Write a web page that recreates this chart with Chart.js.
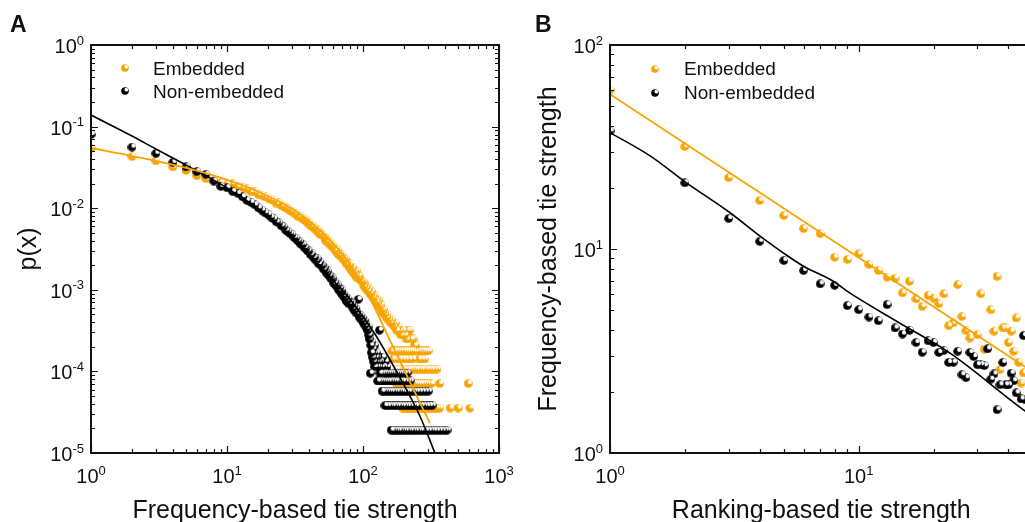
<!DOCTYPE html>
<html><head><meta charset="utf-8">
<script src="https://cdn.jsdelivr.net/npm/chart.js@4.4.0/dist/chart.umd.min.js"></script>
<style>
html,body{margin:0;padding:0;background:#fff;overflow:hidden;width:1025px;height:522px;}
#wa{position:absolute;left:0;top:0;width:520px;height:522px;}
#wb{position:absolute;left:520px;top:0;width:540px;height:522px;}
</style></head><body>
<div id="wa"><canvas id="ca" width="520" height="522"></canvas></div>
<div id="wb"><canvas id="cb" width="540" height="522"></canvas></div>
<script>
const FONT = "'Liberation Sans', Arial, Helvetica, sans-serif";
const ORANGE = '#F7A400';
const INK = '#111111';

const seriesNames = ['Embedded', 'Non-embedded'];
const panelLabels = ['A', 'B'];
const titlesA = ['Frequency-based tie strength', 'p(x)'];
const titlesB = ['Ranking-based tie strength', 'Frequency-based tie strength'];
const tickExpAx = [0, 1, 2, 3];
const tickExpAy = [0, -1, -2, -3, -4, -5];
const tickExpBx = [0, 1];
const tickExpBy = [0, 1, 2];

// ---------- Panel A : distribution p(x) ----------
const freqEmbX = [1,2,3,4,5,6,7,8,9,10,11,12,13,14,15,16,17,18,19,20,21,22,23,24,25,26,27,28,29,30,31,32,33,34,35,36,37,38,39,40,41,42,43,44,45,46,47,48,49,50,52,53,54,55,56,57,58,59,60,62,63,64,65,66,67,68,70,71,72,73,74,75,76,78,79,80,82,83,84,85,86,88,89,90,92,93,95,96,98,100,
101,103,104,106,108,110,112,113,115,117,118,120,122,124,125,127,129,131,133,135,137,139,141,143,145,148,150,153,155,158,161,164,168,172,176,180,185,190,196,202,208,214,221,227,234,240,245,
163,168,173,178,184,190,196,203,210,217,225,233,242,251,260,270,280,290,301,
166,175,185,195,205,218,232,258,270,284,
158,163,169,175,181,188,195,202,210,218,227,236,246,256,267,279,291,304,318,333,350,
175,181,188,195,202,210,218,226,235,244,253,263,273,284,295,318,366,594,
195,201,207,214,221,228,236,244,252,261,270,280,290,301,312,323,335,348,366,437,500,612];
const freqEmbY = [0.054,0.043,0.038,0.032,0.029,0.025,0.023,0.022,0.0205,0.0195,0.020,0.0185,0.018,0.0172,0.016,0.0158,0.0148,0.0145,0.0138,0.0133,0.0128,0.0124,0.0115,0.0118,0.0108,0.0105,0.0101,0.0098,0.0093,0.0092,0.0087,0.0086,0.0080,0.0081,0.0077,0.0074,0.0072,0.0070,0.0066,0.0066,0.0061,0.0062,0.0058,0.0058,0.0054,0.0055,0.0050,0.0051,0.0047,0.0047,0.0044,0.0040,0.0042,0.0038,0.0039,0.0036,0.0037,0.0034,0.0035,0.0031,0.0032,0.0029,0.0031,0.0027,0.0028,0.0026,0.0027,0.0024,0.0025,0.0023,0.0024,0.0021,0.0022,0.0020,0.0019,0.0021,0.0018,0.0017,0.0019,0.0016,0.0017,0.0015,0.0017,0.0014,0.0015,0.0014,0.00145,0.0013,0.0013,0.00125,
0.00112,0.0012,0.00105,0.00112,0.00098,0.00105,0.00092,0.00088,0.00096,0.00082,0.00088,0.00078,0.00085,0.00072,0.00078,0.00068,0.00074,0.00064,0.0006,0.00066,0.00057,0.00053,0.00057,0.0005,0.00053,0.00046,0.0005,0.00043,0.00046,0.0004,0.00043,0.00039,0.00036,0.00039,0.00032,0.00036,0.00032,0.00028,0.00032,0.00028,0.00025,0.00032,0.00032,0.00025,0.00025,0.00021,0.00021,
1.78e-4,1.78e-4,1.78e-4,1.78e-4,1.78e-4,1.78e-4,1.78e-4,1.78e-4,1.78e-4,1.78e-4,1.78e-4,1.78e-4,1.78e-4,1.78e-4,1.78e-4,1.78e-4,1.78e-4,1.78e-4,1.78e-4,
1.42e-4,1.42e-4,1.42e-4,1.42e-4,1.42e-4,1.42e-4,1.42e-4,1.42e-4,1.42e-4,1.42e-4,
1.07e-4,1.07e-4,1.07e-4,1.07e-4,1.07e-4,1.07e-4,1.07e-4,1.07e-4,1.07e-4,1.07e-4,1.07e-4,1.07e-4,1.07e-4,1.07e-4,1.07e-4,1.07e-4,1.07e-4,1.07e-4,1.07e-4,1.07e-4,1.07e-4,
7.1e-5,7.1e-5,7.1e-5,7.1e-5,7.1e-5,7.1e-5,7.1e-5,7.1e-5,7.1e-5,7.1e-5,7.1e-5,7.1e-5,7.1e-5,7.1e-5,7.1e-5,7.1e-5,7.1e-5,7.1e-5,
3.56e-5,3.56e-5,3.56e-5,3.56e-5,3.56e-5,3.56e-5,3.56e-5,3.56e-5,3.56e-5,3.56e-5,3.56e-5,3.56e-5,3.56e-5,3.56e-5,3.56e-5,3.56e-5,3.56e-5,3.56e-5,3.56e-5,3.56e-5,3.56e-5,3.56e-5];

const freqNonX = [1,2,3,4,5,6,7,8,9,10,11,12,13,14,15,16,17,18,19,20,21,22,23,24,25,26,27,28,29,30,31,32,33,34,35,36,37,38,39,40,41,42,43,44,45,46,47,48,49,50,51,52,53,54,55,56,57,58,59,60,61,62,63,64,65,66,67,68,69,70,71,72,73,74,75,76,77,78,79,80,82,83,84,85,86,88,89,90,92,93,94,96,97,99,100,102,103,105,106,108,109,
110,111,112,113,114,115,116,117,118,119,120,121,122,123,124,125,126,127,129,130,132,134,136,139,142,146,150,
133,137,141,146,151,156,161,167,173,179,186,193,201,211,
128,132,137,142,147,153,159,165,172,179,187,195,204,213,222,
138,143,149,155,161,168,175,182,190,198,207,216,226,237,248,260,273,287,302,
145,151,157,164,171,178,186,194,203,212,222,232,243,255,267,280,294,308,322,
161,167,174,181,188,196,204,213,222,232,242,253,264,276,289,302,316,331,347,364,381,400,415];
const freqNonY = [0.08,0.056,0.047,0.0365,0.032,0.028,0.026,0.0215,0.0185,0.0178,0.016,0.0152,0.0138,0.0125,0.0118,0.011,0.0101,0.0095,0.0088,0.0084,0.0078,0.0074,0.0068,0.0066,0.0061,0.0059,0.0054,0.0052,0.0049,0.0048,0.0044,0.0043,0.004,0.0039,0.0036,0.0036,0.0033,0.0032,0.003,0.003,0.0027,0.0028,0.0025,0.0025,0.0023,0.0024,0.0021,0.0022,0.002,0.002,0.0018,0.00185,0.0017,0.0016,0.0017,0.0015,0.0015,0.0014,0.00135,0.0014,0.0012,0.00125,0.00115,0.0011,0.00115,0.001,0.00105,0.00095,0.00092,0.001,0.00085,0.00088,0.0008,0.00082,0.00075,0.00072,0.00078,0.00068,0.0007,0.0007,0.00066,0.00069,0.0006,0.00063,0.00056,0.00059,0.00052,0.00055,0.00076,0.0005,0.00046,0.00048,0.00043,0.00045,0.0004,0.00042,0.00037,0.00039,0.00034,0.00032,0.00035,
0.00028,0.00025,0.00029,0.000095,0.00021,0.00017,0.00023,0.00015,0.00019,0.000133,0.00017,0.000115,0.00021,0.00015,0.000133,0.00017,0.000115,0.00015,0.000133,0.000115,0.00032,0.000133,0.000115,0.00015,0.000115,0.000133,0.000115,
9.55e-5,9.55e-5,9.55e-5,9.55e-5,9.55e-5,9.55e-5,9.55e-5,9.55e-5,9.55e-5,9.55e-5,9.55e-5,9.55e-5,9.55e-5,9.55e-5,
7.64e-5,7.64e-5,7.64e-5,7.64e-5,7.64e-5,7.64e-5,7.64e-5,7.64e-5,7.64e-5,7.64e-5,7.64e-5,7.64e-5,7.64e-5,7.64e-5,7.64e-5,
5.73e-5,5.73e-5,5.73e-5,5.73e-5,5.73e-5,5.73e-5,5.73e-5,5.73e-5,5.73e-5,5.73e-5,5.73e-5,5.73e-5,5.73e-5,5.73e-5,5.73e-5,5.73e-5,5.73e-5,5.73e-5,5.73e-5,
3.82e-5,3.82e-5,3.82e-5,3.82e-5,3.82e-5,3.82e-5,3.82e-5,3.82e-5,3.82e-5,3.82e-5,3.82e-5,3.82e-5,3.82e-5,3.82e-5,3.82e-5,3.82e-5,3.82e-5,3.82e-5,3.82e-5,
1.91e-5,1.91e-5,1.91e-5,1.91e-5,1.91e-5,1.91e-5,1.91e-5,1.91e-5,1.91e-5,1.91e-5,1.91e-5,1.91e-5,1.91e-5,1.91e-5,1.91e-5,1.91e-5,1.91e-5,1.91e-5,1.91e-5,1.91e-5,1.91e-5,1.91e-5,1.91e-5];

const freqEmbFitX = [1, 2, 5, 10, 20, 34.4, 60, 87.6, 116, 158, 220, 310];
const freqEmbFitY = [0.0547, 0.0436, 0.0311, 0.0222, 0.0141, 0.0085, 0.00375, 0.00165, 0.00071, 0.00024, 0.000076, 0.0000233];
const freqNonFitX = [1, 2, 3, 5, 7, 10, 20, 34.4, 60, 80, 122, 186, 262, 338];
const freqNonFitY = [0.1387, 0.0767, 0.0531, 0.0338, 0.0249, 0.0177, 0.008, 0.00337, 0.00131, 0.000774, 0.000289, 0.000085, 0.0000284, 0.00001];

// ---------- Panel B : frequency vs ranking ----------
const rankEmbX = [1,2,3,4,5,6,7,8,9,10,11,12,13,14,15,16,17,18,19,20,21,22,23,24,25,26,27,28,30,31,32,34,35,36,37,38,39,40,41,42,43,44,45,46];
const rankEmbY = [60.1,31.8,22.4,17.3,14.6,12.6,11.9,9.12,8.88,9.47,8.4,7.84,7.27,7.19,6.1,6.95,5.69,5.24,5.93,5.75,5.4,6.03,4.21,4.34,6.69,4.67,3.98,3.66,3.8,6.03,3.23,5.04,3.95,7.35,2.56,4.1,4.1,3.48,3.95,3.15,4.59,2.78,2.2,2.47];
const rankNonX = [1,2,3,4,5,6,7,8,9,10,11,12,13,14,15,16,17,18,19,20,21,22,23,24,25,26,27,28,29,30,31,32,33,34,35,36,37,38,39,40,41,42,43,45,46,47];
const rankNonY = [37.9,21.1,14.1,10.9,8.78,7.84,6.75,6.64,5.28,5.04,4.64,4.45,5.34,4.1,3.83,3.99,3.48,3.12,3.55,3.48,3.11,3.18,2.78,2.78,3.15,2.42,2.34,3.11,2.97,2.71,2.71,2.68,3.24,2.3,2.44,1.63,2.16,2.78,2.16,2.16,2.46,2.26,1.97,1.84,3.76,1.82];
const rankEmbFitX = [1, 50];
const rankEmbFitY = [57.4, 2.5];
const rankNonFitX = [1, 1.45, 2.03, 3.03, 4.0, 4.97, 6.0, 7.9, 9.2, 14.6, 23.3, 46.6, 50];
const rankNonFitY = [37.2, 28.6, 21.1, 15.1, 11.6, 9.58, 8.23, 6.95, 6.09, 4.34, 3.09, 1.61, 1.52];

function ball(color, d) {
  const c = document.createElement('canvas');
  c.width = d; c.height = d;
  const g = c.getContext('2d');
  const r = d / 2;
  g.beginPath(); g.arc(r, r, r - 0.2, 0, Math.PI * 2); g.fillStyle = color; g.fill();
  g.save();
  g.beginPath(); g.arc(r, r, r - 0.6, 0, Math.PI * 2); g.clip();
  const hx = r + r * 0.36, hy = r - r * 0.36;
  const gr = g.createRadialGradient(hx, hy, 0, hx, hy, r * 0.6);
  gr.addColorStop(0, 'rgba(255,255,255,1)');
  gr.addColorStop(0.6, 'rgba(255,255,255,1)');
  gr.addColorStop(1, 'rgba(255,255,255,0)');
  g.fillStyle = gr; g.fillRect(0, 0, d, d);
  g.restore();
  return c;
}
const ballO = ball(ORANGE, 9), ballK = ball('#000', 9);
const legO = ball(ORANGE, 8), legK = ball('#000', 8);

// points listed per series; drawn from the largest x down so every highlight stays visible
const pts = (xs, ys) => xs.map((x, i) => ({x: x, y: ys[i]}));
const ptsDesc = (xs, ys) => pts(xs, ys).sort((a, b) => b.x - a.x);

const framePlugin = {
  id: 'logFrame',
  afterDatasetsDraw(chart) {
    const o = chart.options.plugins.logFrame;
    const {ctx, chartArea: a} = chart;
    const sx = chart.scales.x, sy = chart.scales.y;
    ctx.save();
    ctx.strokeStyle = INK;
    ctx.lineWidth = 1.2;
    ctx.beginPath();
    const each = (scale, cb) => {
      const lo = Math.floor(Math.log10(scale.min)), hi = Math.ceil(Math.log10(scale.max));
      for (let k = lo; k <= hi; k++) for (let m = 1; m <= 9; m++) {
        const v = m * Math.pow(10, k);
        if (v < scale.min * 0.999 || v > scale.max * 1.001) continue;
        cb(scale.getPixelForValue(v), m === 1 ? 7 : 4);
      }
    };
    each(sx, (p, len) => { p = Math.round(p) + 0.5; ctx.moveTo(p, a.bottom); ctx.lineTo(p, a.bottom - len); ctx.moveTo(p, a.top); ctx.lineTo(p, a.top + len); });
    each(sy, (p, len) => { p = Math.round(p) + 0.5; ctx.moveTo(a.left, p); ctx.lineTo(a.left + len, p); ctx.moveTo(a.right, p); ctx.lineTo(a.right - len, p); });
    ctx.stroke();
    ctx.lineWidth = 2;
    ctx.strokeRect(a.left, a.top, a.right - a.left, a.bottom - a.top);

    ctx.fillStyle = INK;
    ctx.textBaseline = 'alphabetic';
    ctx.textAlign = 'left';
    const big = '20px ' + FONT, small = '13px ' + FONT;
    o.xExps.forEach(e => {
      const px = sx.getPixelForValue(Math.pow(10, e));
      ctx.font = big; const w1 = ctx.measureText('10').width;
      ctx.font = small; const w2 = ctx.measureText(String(e)).width;
      const x0 = px - (w1 + w2) / 2;
      ctx.font = big; ctx.fillText('10', x0, a.bottom + 30);
      ctx.font = small; ctx.fillText(String(e), x0 + w1, a.bottom + 21.5);
    });
    o.yExps.forEach(e => {
      const py = sy.getPixelForValue(Math.pow(10, e));
      ctx.font = big; const w1 = ctx.measureText('10').width;
      ctx.font = small; const w2 = ctx.measureText(String(e)).width;
      const right = a.left - 7;
      ctx.font = big; ctx.fillText('10', right - w2 - w1, py + 8);
      ctx.font = small; ctx.fillText(String(e), right - w2, py - 0.5);
    });
    ctx.font = '19px ' + FONT;
    o.legend.forEach(it => {
      ctx.drawImage(it.img, it.mx - it.img.width / 2, it.my - it.img.height / 2);
      ctx.fillText(it.text, it.tx, it.ty);
    });
    ctx.font = 'bold 23px ' + FONT;
    ctx.fillText(o.panel, o.panelX, 31.5);
    ctx.restore();
  }
};

function makeChart(id, cfg) {
  const axisTitle = (text, pad) => ({display: true, text: text, color: INK,
    font: {family: FONT, size: 25, lineHeight: pad.lh}, padding: {top: pad.top, bottom: pad.bottom}});
  return new Chart(document.getElementById(id), {
    type: 'scatter',
    data: {datasets: [
      {label: seriesNames[0] + ' fit', data: pts(cfg.fitEX, cfg.fitEY), showLine: true, borderColor: ORANGE, borderWidth: 1.8, pointRadius: 0, cubicInterpolationMode: 'monotone'},
      {label: seriesNames[1] + ' fit', data: pts(cfg.fitNX, cfg.fitNY), showLine: true, borderColor: '#000', borderWidth: 1.6, pointRadius: 0, cubicInterpolationMode: 'monotone'},
      {label: seriesNames[1], data: ptsDesc(cfg.nX, cfg.nY), pointStyle: ballK, pointRadius: 4.5},
      {label: seriesNames[0], data: ptsDesc(cfg.eX, cfg.eY), pointStyle: ballO, pointRadius: 4.5}
    ]},
    options: {
      responsive: false, animation: false, events: [],
      layout: {padding: {left: 0, top: 45, right: cfg.padRight, bottom: 0}},
      plugins: {
        legend: {display: false}, tooltip: {enabled: false},
        logFrame: {xExps: cfg.xExps, yExps: cfg.yExps, panel: cfg.panel, panelX: cfg.panelX, legend: cfg.legend}
      },
      scales: {
        x: {type: 'logarithmic', min: cfg.xMin, max: cfg.xMax,
            ticks: {display: false}, grid: {display: false}, border: {display: false},
            title: axisTitle(cfg.xTitle, {lh: 0.85, top: 0, bottom: 0}),
            afterFit: s => { s.height = 69; }},
        y: {type: 'logarithmic', min: cfg.yMin, max: cfg.yMax,
            ticks: {display: false}, grid: {display: false}, border: {display: false},
            title: axisTitle(cfg.yTitle, {lh: 1, top: 17, bottom: 0}),
            afterFit: s => { s.width = cfg.yW; }}
      }
    },
    plugins: [framePlugin]
  });
}

makeChart('ca', {
  eX: freqEmbX, eY: freqEmbY, nX: freqNonX, nY: freqNonY,
  fitEX: freqEmbFitX, fitEY: freqEmbFitY, fitNX: freqNonFitX, fitNY: freqNonFitY,
  xMin: 1, xMax: 1000, yMin: 1e-5, yMax: 1, xExps: tickExpAx, yExps: tickExpAy,
  xTitle: titlesA[0], yTitle: titlesA[1], yW: 91, padRight: 21,
  panel: panelLabels[0], panelX: 10,
  legend: [{img: legO, mx: 125, my: 68, text: seriesNames[0], tx: 153, ty: 74.5},
           {img: legK, mx: 125, my: 91, text: seriesNames[1], tx: 153, ty: 98}]
});
makeChart('cb', {
  eX: rankEmbX, eY: rankEmbY, nX: rankNonX, nY: rankNonY,
  fitEX: rankEmbFitX, fitEY: rankEmbFitY, fitNX: rankNonFitX, fitNY: rankNonFitY,
  xMin: 1, xMax: 50, yMin: 1, yMax: 100, xExps: tickExpBx, yExps: tickExpBy,
  xTitle: titlesB[0], yTitle: titlesB[1], yW: 90, padRight: 27.5,
  panel: panelLabels[1], panelX: 15,
  legend: [{img: legO, mx: 135, my: 69, text: seriesNames[0], tx: 164, ty: 75},
           {img: legK, mx: 135, my: 93, text: seriesNames[1], tx: 164, ty: 99}]
});
</script></body></html>
